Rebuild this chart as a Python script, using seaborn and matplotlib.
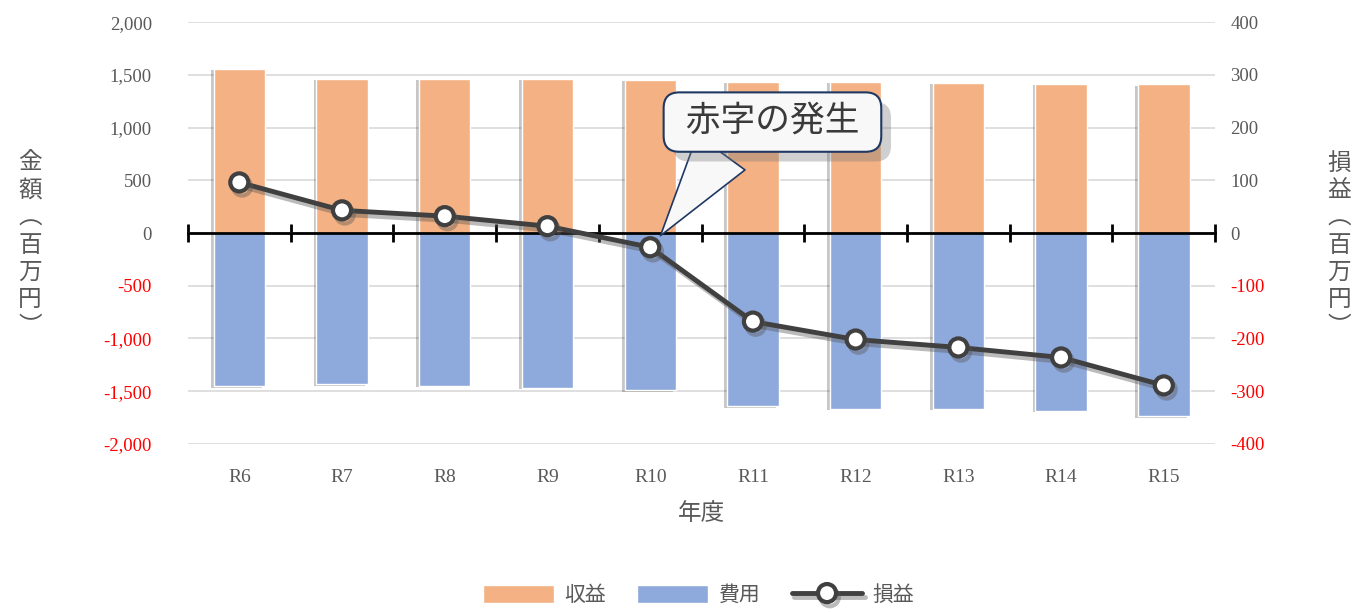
# 収支の推移 (収益・費用・損益)
import numpy as np
import pandas as pd
import matplotlib
matplotlib.use("Agg")
import matplotlib.pyplot as plt
import matplotlib.patheffects as pe
from matplotlib.ticker import FuncFormatter, FixedLocator
import seaborn as sns

# data (百万円)
years = ["R6", "R7", "R8", "R9", "R10", "R11", "R12", "R13", "R14", "R15"]
revenue = [1557, 1462, 1462, 1462, 1452, 1436, 1436, 1426, 1414, 1410]
expense = [-1452, -1436, -1447, -1467, -1493, -1643, -1668, -1668, -1685, -1739]
profit = [96, 43, 32, 13, -27, -168, -202, -217, -236, -289]

left_ticks = list(range(-2000, 2001, 500))
right_ticks = list(range(-400, 401, 100))

df = pd.DataFrame({"年度": years, "収益": revenue, "費用": expense, "損益": profit})

sns.set_style("white")
plt.rcParams["font.family"] = ["Liberation Serif", "Noto Sans CJK JP"]

GRAY = "#595959"
RED = "#FF0000"
fmt = FuncFormatter(lambda v, _: "{:,.0f}".format(v))

fig = plt.figure(figsize=(13.57, 6.14), dpi=100)
ax = fig.add_axes([0.1385, 0.277, 0.757, 0.687])

sns.barplot(data=df, x="年度", y="収益", color="#F4B183", width=0.5, saturation=1,
            label="収益", ax=ax, zorder=2)
sns.barplot(data=df, x="年度", y="費用", color="#8EA9DB", width=0.5, saturation=1,
            label="費用", ax=ax, zorder=2)
h1, l1 = ax.get_legend_handles_labels()

# soft shadow on the bars
shadow = [pe.SimplePatchShadow(offset=(-2, -1), shadow_rgbFace="#222222", alpha=0.25), pe.Normal()]
for p in ax.patches:
    p.set_path_effects(shadow)

ax.set_ylim(left_ticks[0], left_ticks[-1])
ax.set_xlim(-0.5, len(years) - 0.5)
ax.yaxis.set_major_locator(FixedLocator(left_ticks))
ax.yaxis.set_major_formatter(fmt)
ax.grid(axis="y", color="#D9D9D9", linewidth=1.2, zorder=0)
ax.set_axisbelow(True)
ax.tick_params(axis="y", left=False, length=0, pad=26, labelsize=13.5)
for t, v in zip(ax.get_yticklabels(), left_ticks):
    t.set_color(RED if v < 0 else GRAY)

# zero axis with boundary ticks
for s in ["top", "right", "left"]:
    ax.spines[s].set_visible(False)
ax.spines["bottom"].set_position(("data", 0))
ax.spines["bottom"].set_linewidth(2)
ax.spines["bottom"].set_color("black")
ax.spines["bottom"].set_zorder(5)
ax.xaxis.set_major_locator(FixedLocator(np.arange(len(years) + 1) - 0.5))
ax.tick_params(axis="x", bottom=True, direction="inout", length=13, width=2,
               color="black", labelbottom=False)
ax.set_xlabel("")
ax.set_ylabel("")

# category labels at the bottom of the plot area
sec = ax.secondary_xaxis("bottom")
sec.set_xticks(range(len(years)))
sec.set_xticklabels(years)
sec.tick_params(bottom=False, length=0, pad=18, labelsize=14, labelcolor=GRAY)
sec.spines["bottom"].set_visible(False)
sec.set_xlabel("年度", fontsize=17, color=GRAY, labelpad=12)

# profit on the right axis
ax2 = ax.twinx()
line_fx = [pe.SimpleLineShadow(offset=(2, -3), shadow_color="#555555", alpha=0.4), pe.Normal()]
sns.lineplot(x=np.arange(len(years)), y=profit, ax=ax2, color="#404040", linewidth=3.5,
             marker="o", markersize=13, markerfacecolor="white", markeredgecolor="#404040",
             markeredgewidth=3, label="損益", zorder=6, path_effects=line_fx)
ax2.set_ylim(right_ticks[0], right_ticks[-1])
ax2.yaxis.set_major_locator(FixedLocator(right_ticks))
ax2.yaxis.set_major_formatter(fmt)
ax2.tick_params(axis="y", right=False, length=0, pad=11, labelsize=13.5)
for t, v in zip(ax2.get_yticklabels(), right_ticks):
    t.set_color(RED if v < 0 else GRAY)
for s in ax2.spines.values():
    s.set_visible(False)
ax2.grid(False)
ax2.set_ylabel("")

# vertical axis titles
fig.text(0.022, 0.60, "\n".join("金額︵百万円︶"), ha="center", va="center",
         fontsize=17, color=GRAY, linespacing=1.38)
fig.text(0.987, 0.60, "\n".join("損益︵百万円︶"), ha="center", va="center",
         fontsize=17, color=GRAY, linespacing=1.38)

# callout
ann = ax2.annotate(" 赤字の発生 ", xy=(4.1, -5), xycoords="data",
                   xytext=(0.569, 0.763), textcoords="axes fraction",
                   ha="center", va="center", fontsize=25, color="#3A3A3A", zorder=10,
                   bbox=dict(boxstyle="round,pad=0.38,rounding_size=0.45", fc="#F8F8F8",
                             ec="#1F3864", lw=1.5),
                   arrowprops=dict(arrowstyle="wedge,tail_width=1.7", fc="#F8F8F8",
                                   ec="#1F3864", lw=1.2, relpos=(0.285, 0.0),
                                   shrinkA=0, shrinkB=0))
ann.get_bbox_patch().set_path_effects(
    [pe.SimplePatchShadow(offset=(7, -7), shadow_rgbFace="#777777", alpha=0.35), pe.Normal()])

# legend at the bottom
h2, l2 = ax2.get_legend_handles_labels()
for a in (ax, ax2):
    if a.get_legend() is not None:
        a.get_legend().remove()
leg = fig.legend(h1 + h2, l1 + l2, loc="center", bbox_to_anchor=(0.515, 0.03), ncol=3,
                 frameon=False, fontsize=15, handlelength=3.4, handleheight=1.0,
                 handletextpad=0.5, columnspacing=1.5, labelcolor=GRAY)
for p in leg.get_patches():
    p.set_path_effects([])

fig.savefig("out.png", dpi=100)
